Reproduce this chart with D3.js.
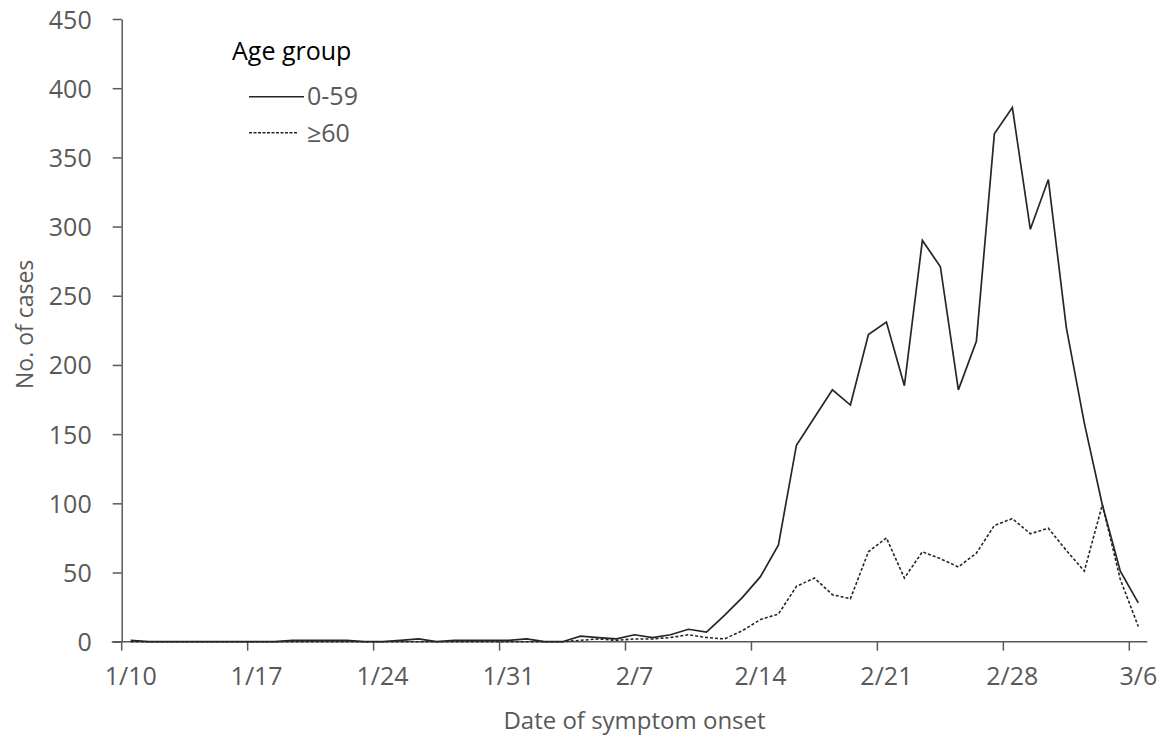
<!DOCTYPE html>
<html>
<head>
<meta charset="utf-8">
<script src="https://cdn.jsdelivr.net/npm/d3@7"></script>
<style>
  html, body { margin: 0; padding: 0; background: #fff; }
  svg { display: block; font-family: "Open Sans", "Noto Sans", sans-serif; }
</style>
</head>
<body>
<svg id="chart" width="1162" height="742"></svg>
<script>
// ---- Data ----
const dates = [
  "1/10","1/11","1/12","1/13","1/14","1/15","1/16","1/17","1/18","1/19","1/20",
  "1/21","1/22","1/23","1/24","1/25","1/26","1/27","1/28","1/29","1/30","1/31",
  "2/1","2/2","2/3","2/4","2/5","2/6","2/7","2/8","2/9","2/10","2/11","2/12",
  "2/13","2/14","2/15","2/16","2/17","2/18","2/19","2/20","2/21","2/22","2/23",
  "2/24","2/25","2/26","2/27","2/28","2/29","3/1","3/2","3/3","3/4","3/5","3/6"
];
const age0to59 = [
  1,0,0,0,0,0,0,0,0,1,1,
  1,1,0,0,1,2,0,1,1,1,1,
  2,0,0,4,3,2,5,3,5,9,7,19,
  32,47,70,142,162,182,171,222,231,185,290,
  271,182,217,367,386,298,334,227,158,99,51,28
];
const age60plus = [
  0,0,0,0,0,0,0,0,0,0,0,
  0,0,0,0,0,0,0,0,0,0,0,
  0,0,0,1,2,1,2,2,3,5,3,2,
  8,16,20,40,46,34,31,65,75,46,65,
  60,54,64,84,89,78,82,66,51,99,45,11
];
const seriesNames = ["0-59", "\u226560"];
const xTickLabels = ["1/10","1/17","1/24","1/31","2/7","2/14","2/21","2/28","3/6"];
const yTickValues = [0,50,100,150,200,250,300,350,400,450];

(function () {
// ---- Chart ----
const svg = d3.select("#chart");
const pL = 121.7, pR = 1147.3, pT = 19, pB = 641.7;
const axisColor = "#595959", textColor = "#595959", lineColor = "#262626";

const x = d3.scaleBand().domain(dates).range([pL, pR]).padding(0);
const cx = d => x(d) + x.bandwidth() / 2;
const y = d3.scaleLinear().domain([0, 450]).range([pB, pT]);

// Y axis
const yAxis = svg.append("g")
  .attr("transform", `translate(${pL},0)`)
  .call(d3.axisLeft(y).tickValues(yTickValues).tickSize(9).tickSizeOuter(0).tickPadding(21));
yAxis.select(".domain").attr("stroke", axisColor).attr("stroke-width", 1.5);
yAxis.selectAll(".tick line").attr("stroke", axisColor).attr("stroke-width", 1.5);
yAxis.selectAll(".tick text")
  .attr("fill", textColor).attr("font-size", 25).attr("dy", "0.36em")
  .style("font-family", "'Open Sans', sans-serif");

// X axis (labels at category centres, ticks at category boundaries)
const xAxis = svg.append("g")
  .attr("transform", `translate(0,${pB})`)
  .call(d3.axisBottom(x).tickValues(xTickLabels).tickSize(0).tickSizeOuter(0));
xAxis.select(".domain").remove();
xAxis.selectAll(".tick text")
  .attr("fill", textColor).attr("font-size", 25).attr("y", 43.5).attr("dy", 0)
  .style("font-family", "'Open Sans', sans-serif");

svg.append("line")
  .attr("x1", pL - 10).attr("x2", pR)
  .attr("y1", pB).attr("y2", pB)
  .attr("stroke", axisColor).attr("stroke-width", 1.5);
svg.append("g").selectAll("line")
  .data(xTickLabels).join("line")
  .attr("x1", d => x(d)).attr("x2", d => x(d))
  .attr("y1", pB).attr("y2", pB + 9)
  .attr("stroke", axisColor).attr("stroke-width", 1.5);

// Lines
const lineGen = vals => d3.line()
  .x((v, i) => cx(dates[i]))
  .y(v => y(v))(vals);

svg.append("path")
  .attr("d", lineGen(age60plus))
  .attr("fill", "none").attr("stroke", lineColor)
  .attr("stroke-width", 1.6).attr("stroke-dasharray", "3,2");
svg.append("path")
  .attr("d", lineGen(age0to59))
  .attr("fill", "none").attr("stroke", lineColor)
  .attr("stroke-width", 1.7).attr("stroke-linejoin", "miter");

// Axis titles
svg.append("text")
  .attr("x", (pL + pR) / 2).attr("y", 729)
  .attr("text-anchor", "middle").attr("fill", textColor).attr("font-size", 24)
  .text("Date of symptom onset");
svg.append("text")
  .attr("transform", `translate(33,${(pT + pB) / 2 - 6}) rotate(-90)`)
  .attr("text-anchor", "middle").attr("fill", textColor).attr("font-size", 23)
  .text("No. of cases");

// Legend
const lg = svg.append("g");
lg.append("text").attr("x", 232).attr("y", 60)
  .attr("fill", "#000").attr("font-size", 25).text("Age group");
lg.append("line").attr("x1", 249).attr("x2", 304).attr("y1", 96.7).attr("y2", 96.7)
  .attr("stroke", lineColor).attr("stroke-width", 1.6);
lg.append("line").attr("x1", 249).attr("x2", 297).attr("y1", 132.7).attr("y2", 132.7)
  .attr("stroke", lineColor).attr("stroke-width", 1.4).attr("stroke-dasharray", "3,1.5");
lg.append("text").attr("x", 307).attr("y", 105)
  .attr("fill", textColor).attr("font-size", 25).text(seriesNames[0]);
lg.append("text").attr("x", 307).attr("y", 141.5)
  .attr("fill", textColor).attr("font-size", 25).text(seriesNames[1]);
})();
</script>
</body>
</html>
